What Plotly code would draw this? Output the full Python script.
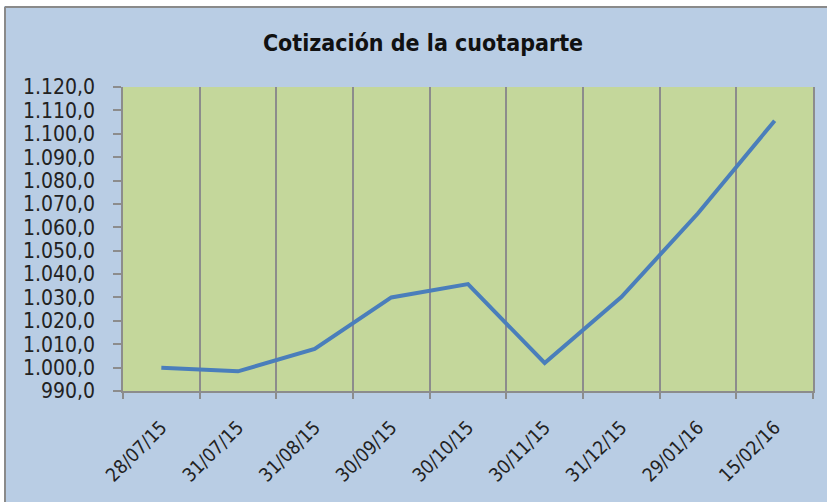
import plotly.graph_objects as go

fechas = ["28/07/15", "31/07/15", "31/08/15", "30/09/15", "30/10/15",
          "30/11/15", "31/12/15", "29/01/16", "15/02/16"]
cotizacion = [999.9, 998.4, 1008.0, 1030.0, 1035.7, 1002.0, 1030.2, 1066.0, 1105.6]

y_ticks = [990, 1000, 1010, 1020, 1030, 1040, 1050, 1060, 1070, 1080, 1090, 1100, 1110, 1120]
y_labels = ["990,0", "1.000,0", "1.010,0", "1.020,0", "1.030,0", "1.040,0", "1.050,0",
            "1.060,0", "1.070,0", "1.080,0", "1.090,0", "1.100,0", "1.110,0", "1.120,0"]

W, H = 827, 502
L, R, T, B = 123, 14, 87, 111
pw, ph = W - L - R, H - T - B

def px_x(p):
    return (p - L) / pw

def px_y(p):
    return (H - B - p) / ph

fig = go.Figure()
fig.add_trace(go.Scatter(
    x=fechas, y=cotizacion, mode="lines",
    line=dict(color="#4a7ebb", width=4),
    hoverinfo="x+y", showlegend=False,
))

# white outer strips and grey chart-area border
fig.add_shape(type="rect", xref="paper", yref="paper", layer="below",
              x0=px_x(-5), x1=px_x(W + 10), y0=px_y(6), y1=px_y(-5),
              fillcolor="white", line=dict(width=0))
fig.add_shape(type="rect", xref="paper", yref="paper", layer="below",
              x0=px_x(-5), x1=px_x(4), y0=px_y(H + 10), y1=px_y(-5),
              fillcolor="white", line=dict(width=0))
fig.add_shape(type="line", xref="paper", yref="paper", layer="below",
              x0=px_x(5), x1=px_x(W + 10), y0=px_y(7), y1=px_y(7),
              line=dict(color="#8a8a8a", width=2))
fig.add_shape(type="line", xref="paper", yref="paper", layer="below",
              x0=px_x(5), x1=px_x(5), y0=px_y(7), y1=px_y(H + 10),
              line=dict(color="#8a8a8a", width=2))

fig.update_layout(
    width=W, height=H,
    margin=dict(l=L, r=R, t=T, b=B, autoexpand=False),
    paper_bgcolor="#b9cde4",
    plot_bgcolor="#c4d79b",
    title=dict(text="<b>Cotización de la cuotaparte</b>", xref="container", x=423 / W,
               xanchor="center", yref="container", y=1 - 43 / H, yanchor="middle",
               font=dict(family="DejaVu Sans Condensed", size=23, color="#111111")),
    font=dict(family="DejaVu Sans Condensed", color="#222222"),
)

fig.update_xaxes(
    type="category", range=[-0.5, 8.5], tickson="boundaries", automargin=False,
    showgrid=True, gridcolor="#8c8c8c", gridwidth=1.5,
    showline=True, linecolor="#8c8c8c", linewidth=1.5,
    ticks="outside", ticklen=6, tickcolor="#8c8c8c", tickwidth=1.5,
    ticklabelstandoff=16,
    tickangle=-45, tickfont=dict(size=19, family="DejaVu Sans Condensed", color="#222222"),
    fixedrange=True,
)
fig.update_yaxes(
    range=[990, 1120], tickvals=y_ticks, ticktext=y_labels, automargin=False,
    showgrid=False, zeroline=False,
    showline=True, mirror=True, linecolor="#8c8c8c", linewidth=1.5,
    ticks="outside", ticklen=8, tickcolor="#8c8c8c", tickwidth=1.5,
    ticklabelstandoff=14,
    tickfont=dict(size=21, family="DejaVu Sans Condensed", color="#222222"),
    fixedrange=True,
)

fig.write_html("out.html", config={"displayModeBar": False},
               post_script="document.body.style.margin='0';")
